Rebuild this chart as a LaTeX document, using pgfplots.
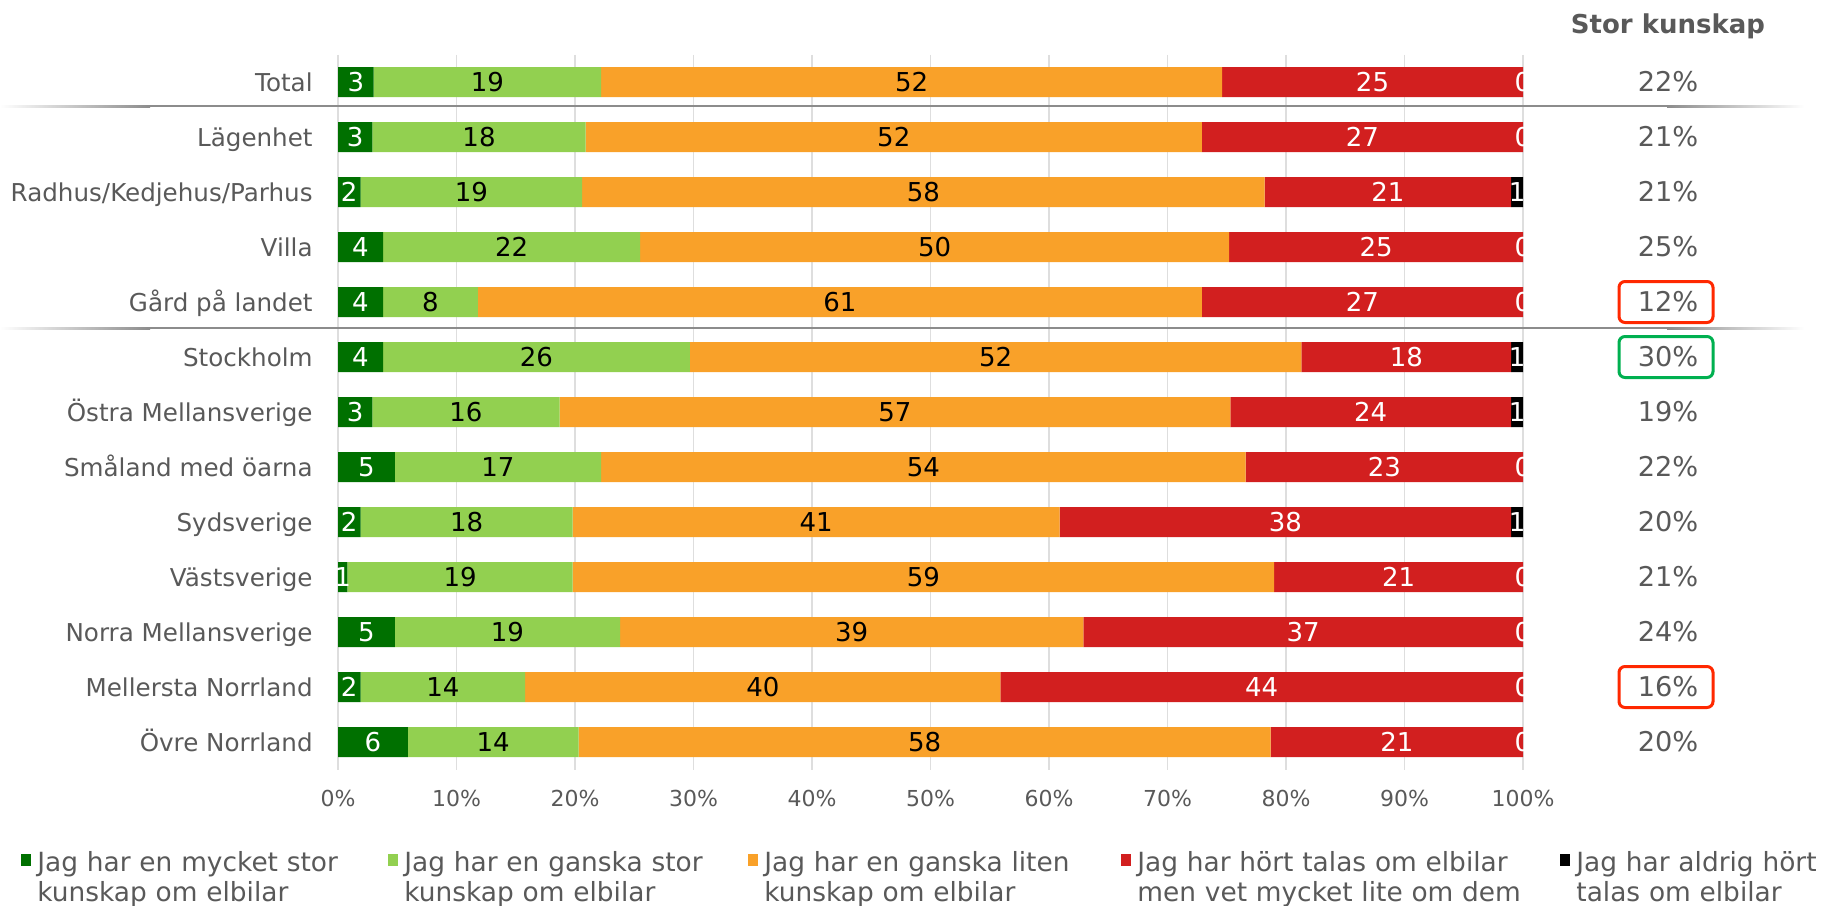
\documentclass[border=0pt]{standalone}
\usepackage{pgfplots}
\pgfplotsset{compat=1.18}
\usepackage{pgfplotstable}
\usepackage{fontspec}
\setmainfont{DejaVu Sans}

\definecolor{dkgreen}{RGB}{0,112,0}
\definecolor{ltgreen}{RGB}{146,208,80}
\definecolor{orng}{RGB}{249,161,41}
\definecolor{rd}{RGB}{210,31,31}
\definecolor{txt}{RGB}{89,89,89}
\definecolor{sep}{RGB}{140,140,140}
\definecolor{boxred}{RGB}{255,40,0}
\definecolor{boxgreen}{RGB}{0,176,80}

% share of answers per row, in percent (0 = Total at the top)
\pgfplotstableread{
row a   b    c    d    e
0   3.0 19.2 52.4 25.4 0
1   2.9 18.0 52.0 27.1 0
2   1.9 18.7 57.6 20.8 1.0
3   3.8 21.7 49.7 24.8 0
4   3.8 8.0  61.1 27.1 0
5   3.8 25.9 51.6 17.7 1.0
6   2.9 15.8 56.6 23.7 1.0
7   4.8 17.4 54.4 23.4 0
8   1.9 17.9 41.1 38.1 1.0
9   0.8 19.0 59.2 21.0 0
10  4.8 19.0 39.1 37.1 0
11  1.9 13.9 40.1 44.1 0
12  5.9 14.4 58.4 21.3 0
}\kunskap
% centres of the segments, for the value labels
\pgfplotstablecreatecol[create col/expr={\thisrow{a}/2}]{ma}\kunskap
\pgfplotstablecreatecol[create col/expr={\thisrow{a}+\thisrow{b}/2}]{mb}\kunskap
\pgfplotstablecreatecol[create col/expr={\thisrow{a}+\thisrow{b}+\thisrow{c}/2}]{mc}\kunskap
\pgfplotstablecreatecol[create col/expr={\thisrow{a}+\thisrow{b}+\thisrow{c}+\thisrow{d}/2}]{md}\kunskap
\pgfplotstablecreatecol[create col/expr={\thisrow{a}+\thisrow{b}+\thisrow{c}+\thisrow{d}+\thisrow{e}/2}]{me}\kunskap

\pgfplotsset{
  frame/.style={
    at={(169pt,-27.25pt)}, anchor=north west,
    scale only axis, width=592.5pt, height=357.5pt,
    xmin=0, xmax=100, ymin=-0.5, ymax=12.5, y dir=reverse, clip=false,
  },
  lbl/.style={draw=none, mark=none, point meta=explicit,
    nodes near coords={\pgfmathprintnumber[fixed,precision=0,assume math mode=true]{\pgfplotspointmeta}},
    every node near coord/.append style={anchor=center, text=#1,
      font=\fontsize{13}{13}\selectfont, inner sep=0pt}},
}

\begin{document}
\begin{tikzpicture}
\path[use as bounding box] (0pt,0pt) rectangle (912.5pt,-452.5pt);

\begin{axis}[
  frame,
  xbar stacked, bar width=15pt,
  xtick={0,10,...,100},
  xticklabels={0\%,10\%,20\%,30\%,40\%,50\%,60\%,70\%,80\%,90\%,100\%},
  ytick={0,...,12},
  yticklabels={Total,Lägenhet,Radhus/Kedjehus/Parhus,Villa,Gård på landet,Stockholm,Östra Mellansverige,Småland med öarna,Sydsverige,Västsverige,Norra Mellansverige,Mellersta Norrland,Övre Norrland},
  xmajorgrids, grid style={draw=black!13, line width=0.75pt},
  axis line style={draw=none}, major tick length=0pt,
  tick label style={text=txt},
  yticklabel style={font=\fontsize{12.3}{12.3}\selectfont, inner sep=0pt,
    text height=9pt, text depth=0pt, xshift=-12.5pt},
  xticklabel style={font=\fontsize{11}{11}\selectfont, inner sep=0pt, yshift=-10pt},
  legend columns=5,
  legend style={at={(axis description cs:-0.2675,-0.1137)}, anchor=north west,
    draw=none, fill=none, inner sep=0pt, text=txt,
    font=\fontsize{13.2}{15}\selectfont,
    nodes={align=left, inner xsep=3pt, inner ysep=0pt},
    cells={anchor=north west},
    /tikz/every even column/.append style={column sep=0pt}},
  legend image code/.code={\fill[#1] (0pt,-1.5pt) rectangle (5pt,-7.5pt);},
]
\addplot[fill=dkgreen, draw=none] table[x=a, y=row] {\kunskap};
\addlegendentry[text width=172.5pt]{Jag har en mycket stor\\kunskap om elbilar}
\addplot[fill=ltgreen, draw=none] table[x=b, y=row] {\kunskap};
\addlegendentry[text width=169pt]{Jag har en ganska stor\\kunskap om elbilar}
\addplot[fill=orng, draw=none] table[x=c, y=row] {\kunskap};
\addlegendentry[text width=175.5pt]{Jag har en ganska liten\\kunskap om elbilar}
\addplot[fill=rd, draw=none] table[x=d, y=row] {\kunskap};
\addlegendentry[text width=208.5pt]{Jag har hört talas om elbilar\\men vet mycket lite om dem}
\addplot[fill=black, draw=none] table[x=e, y=row] {\kunskap};
\addlegendentry[text width=150pt]{Jag har aldrig hört\\talas om elbilar}
\end{axis}

% value labels, centred on each segment
\begin{axis}[frame, hide axis]
\addplot[lbl=white] table[x=ma, y=row, meta=a] {\kunskap};
\addplot[lbl=black] table[x=mb, y=row, meta=b] {\kunskap};
\addplot[lbl=black] table[x=mc, y=row, meta=c] {\kunskap};
\addplot[lbl=white] table[x=md, y=row, meta=d] {\kunskap};
\addplot[lbl=white] table[x=me, y=row, meta=e] {\kunskap};
\end{axis}

% separators
\foreach \yy in {-53pt,-164pt}{
  \shade[left color=white, right color=sep] (0pt,\yy-0.5pt) rectangle (75pt,\yy+0.5pt);
  \fill[sep] (75pt,\yy-0.5pt) rectangle (833.5pt,\yy+0.5pt);
  \shade[left color=sep, right color=white] (833.5pt,\yy-0.5pt) rectangle (902pt,\yy+0.5pt);
}

% right-hand column
\node[font=\bfseries\fontsize{13}{13}\selectfont, text=txt] at (834pt,-13pt) {Stor kunskap};
\foreach \p [count=\i from 0] in {22,21,21,25,12,30,19,22,20,21,24,16,20}
  \node[font=\fontsize{13.6}{13.6}\selectfont, text=txt] at (834pt,{-41pt-27.5pt*\i}) {\p\%};

\foreach \i/\c in {4/boxred,5/boxgreen,11/boxred}
  \draw[\c, line width=1.5pt, rounded corners=3pt]
    (809.5pt,{-41pt-27.5pt*\i-10.25pt}) rectangle (856.5pt,{-41pt-27.5pt*\i+10.25pt});
\end{tikzpicture}
\end{document}
